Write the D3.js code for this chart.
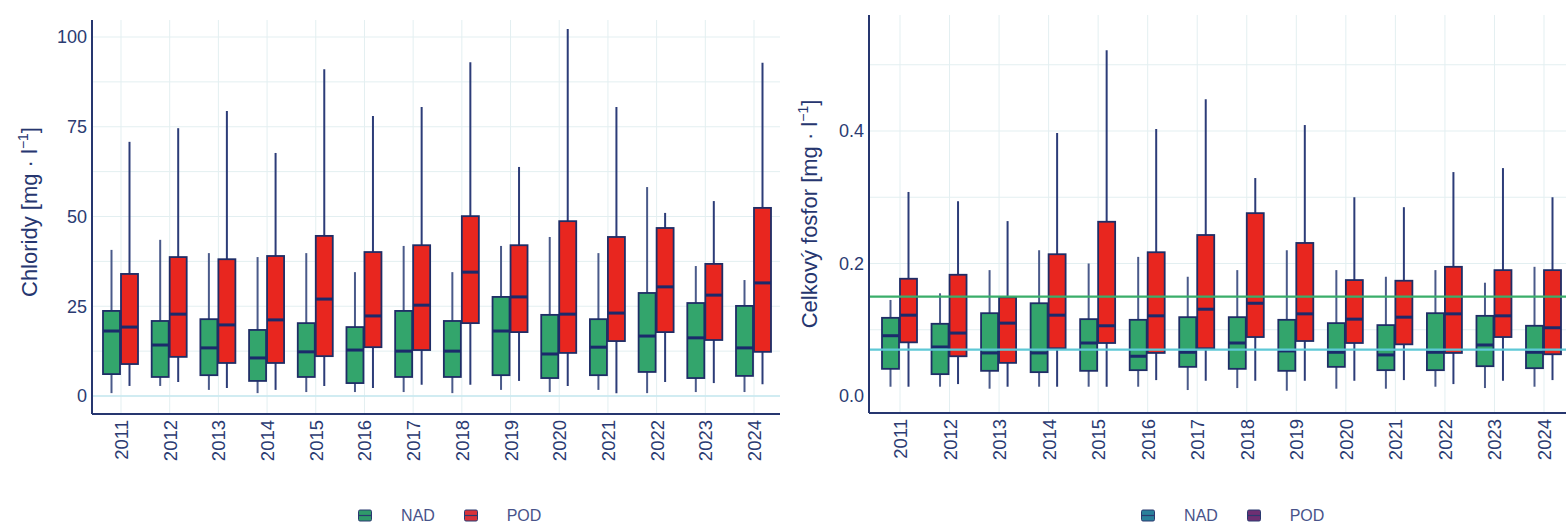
<!DOCTYPE html>
<html><head><meta charset="utf-8">
<script src="https://cdn.jsdelivr.net/npm/d3@7"></script>
<style>body{margin:0;background:#fff}svg{display:block}text{font-family:"Liberation Sans",Arial,sans-serif}</style>
</head><body><svg id="c" width="1566" height="525"></svg>
<script>
const years = ["2011","2012","2013","2014","2015","2016","2017","2018","2019","2020","2021","2022","2023","2024"];
const seriesNames = ["NAD","POD"];
// [min, q1, median, q3, max]
const chlNAD = [[0.8,6.1,18.1,23.7,40.7],[2.8,5.3,14.2,20.9,43.5],[1.7,5.8,13.4,21.4,39.8],[0.8,4.2,10.6,18.4,38.7],[1.1,5.3,12.3,20.3,39.8],[1.1,3.6,12.8,19.2,34.5],[1.1,5.3,12.5,23.7,41.8],[0.8,5.3,12.5,20.9,34.5],[1.7,5.8,18.1,27.6,41.8],[1.1,5.0,11.7,22.6,44.3],[1.7,5.8,13.6,21.4,39.8],[0.8,6.7,16.7,28.7,58.2],[1.1,5.0,16.2,25.9,36.2],[1.1,5.6,13.4,25.1,32.3]];
const chlPOD = [[2.8,8.9,19.2,34.0,70.8],[3.9,10.9,22.8,38.7,74.6],[2.2,9.2,19.8,38.1,79.4],[1.7,9.2,21.2,39.0,67.7],[2.8,11.1,27.0,44.6,91.0],[2.2,13.6,22.3,40.1,78.0],[3.1,12.8,25.3,42.0,80.5],[3.1,20.3,34.5,50.1,93.0],[4.2,17.8,27.6,42.0,63.8],[2.8,12.0,22.8,48.7,102.2],[0.8,15.3,23.1,44.3,80.5],[3.9,17.8,30.4,46.8,51.0],[3.6,15.6,28.1,36.8,54.3],[3.3,12.3,31.5,52.4,92.8]];
const pNAD = [[0.014,0.041,0.091,0.118,0.145],[0.014,0.033,0.074,0.109,0.155],[0.011,0.038,0.065,0.125,0.19],[0.014,0.036,0.065,0.14,0.22],[0.014,0.038,0.08,0.116,0.2],[0.014,0.039,0.06,0.115,0.21],[0.009,0.044,0.066,0.119,0.18],[0.012,0.041,0.08,0.119,0.19],[0.008,0.038,0.068,0.115,0.22],[0.011,0.044,0.066,0.11,0.19],[0.011,0.039,0.062,0.107,0.18],[0.014,0.039,0.066,0.125,0.19],[0.012,0.045,0.077,0.121,0.171],[0.014,0.042,0.066,0.106,0.195]];
const pPOD = [[0.014,0.081,0.122,0.177,0.308],[0.018,0.06,0.095,0.183,0.294],[0.014,0.05,0.11,0.149,0.264],[0.014,0.072,0.122,0.214,0.397],[0.014,0.08,0.106,0.263,0.522],[0.024,0.065,0.121,0.217,0.403],[0.023,0.072,0.131,0.243,0.448],[0.023,0.089,0.14,0.276,0.329],[0.023,0.083,0.124,0.231,0.409],[0.023,0.08,0.116,0.175,0.3],[0.024,0.078,0.119,0.174,0.285],[0.018,0.065,0.124,0.195,0.338],[0.023,0.089,0.121,0.19,0.344],[0.024,0.063,0.103,0.19,0.3]];
const chlTicks = [0,25,50,75,100];
const pTicks = [0,0.2,0.4];
const pRefLines = [0.15, 0.07];

const svg = d3.select("#c");
const navy = "#26366f", tickCol = "#2b3b72";

function panel(o){
  const g = svg.append("g");
  const x = d3.scalePoint().domain(years).range(o.xr);
  const y = d3.scaleLinear().domain(o.yd).range(o.yr);
  // grid
  g.selectAll(".hg").data(o.grid).enter().append("line")
    .attr("x1",o.ax).attr("x2",o.xEnd).attr("y1",d=>y(d)).attr("y2",d=>y(d))
    .attr("stroke","#e3eff1").attr("stroke-width",1);
  g.selectAll(".vg").data(years).enter().append("line")
    .attr("x1",d=>x(d)).attr("x2",d=>x(d)).attr("y1",o.top).attr("y2",o.ay)
    .attr("stroke","#e3eff1").attr("stroke-width",1);
  if(o.zero){
    g.append("line").attr("x1",o.ax).attr("x2",o.xEnd).attr("y1",y(0)).attr("y2",y(0))
      .attr("stroke","#c6e9f0").attr("stroke-width",1.5);
  }
  const bw = 17;
  const sets = [{d:o.nad, off:-9.5, fill:"#33a56c", wc:"#4a5a8a"},{d:o.pod, off:8.5, fill:"#e8261f", wc:"#2c3c78"}];
  sets.forEach(s=>{
    const bg = g.append("g").selectAll("g").data(s.d.map((v,i)=>({v,yr:years[i]}))).enter().append("g")
      .attr("transform",d=>`translate(${x(d.yr)+s.off},0)`);
    bg.append("line").attr("x1",0).attr("x2",0).attr("y1",d=>y(d.v[0])).attr("y2",d=>y(d.v[4]))
      .attr("stroke",s.wc).attr("stroke-width",2);
    bg.append("rect").attr("x",-bw/2).attr("width",bw).attr("y",d=>y(d.v[3])).attr("height",d=>y(d.v[1])-y(d.v[3]))
      .attr("fill",s.fill).attr("stroke","#1f2d66").attr("stroke-width",1.8);
    bg.append("line").attr("x1",-bw/2).attr("x2",bw/2).attr("y1",d=>y(d.v[2])).attr("y2",d=>y(d.v[2]))
      .attr("stroke","#1b2a6b").attr("stroke-width",3);
  });
  if(o.refs){
    const rc = ["#3aae6a","#5ec8d6"];
    g.selectAll(".ref").data(o.refs).enter().append("line")
      .attr("x1",o.ax).attr("x2",o.xEnd).attr("y1",d=>y(d)).attr("y2",d=>y(d))
      .attr("stroke",(d,i)=>rc[i]).attr("stroke-width",2.2);
  }
  // axes lines
  g.append("line").attr("x1",o.ax).attr("x2",o.ax).attr("y1",o.top).attr("y2",o.ay).attr("stroke",navy).attr("stroke-width",2);
  g.append("line").attr("x1",o.ax).attr("x2",o.xEnd).attr("y1",o.ay).attr("y2",o.ay).attr("stroke",navy).attr("stroke-width",2);
  // y axis labels
  const ya = g.append("g").attr("transform",`translate(${o.ax},0)`)
    .call(d3.axisLeft(y).tickValues(o.ticks).tickSize(0).tickPadding(5).tickFormat(o.fmt));
  ya.select(".domain").remove();
  ya.selectAll("text").attr("fill",tickCol).style("font-size","18px");
  // x axis labels
  const xa = g.append("g").attr("transform",`translate(0,${o.ay})`)
    .call(d3.axisBottom(x).tickSize(0));
  xa.select(".domain").remove();
  xa.selectAll("text").attr("fill",tickCol).style("font-size","18.5px")
    .attr("transform","rotate(-90)").attr("text-anchor","end").attr("x",-6).attr("y",0).attr("dy","0.35em");
  // title
  const t = g.append("text").attr("transform",`translate(${o.tx},${o.ty}) rotate(-90)`)
    .attr("text-anchor","middle").attr("fill",navy).style("font-size","22px");
  t.append("tspan").text(o.title+" [mg · l");
  t.append("tspan").attr("dy","-9").style("font-size","14px").text("−1");
  t.append("tspan").attr("dy","9").text("]");
  // legend
  const lg = g.append("g");
  seriesNames.forEach((n,i)=>{
    const lx = o.legX + i*106;
    lg.append("rect").attr("x",lx-6.5).attr("y",510).attr("width",13).attr("height",11).attr("rx",1.5)
      .attr("fill",o.legCols[i]).attr("stroke","#2a3a70").attr("stroke-width",1);
    lg.append("line").attr("x1",lx-6.5).attr("x2",lx+6.5).attr("y1",515.5).attr("y2",515.5).attr("stroke","#2a3a70").attr("stroke-width",1.2);
    lg.append("text").attr("x",lx+53).attr("y",521).attr("text-anchor","middle")
      .attr("fill","#48538a").style("font-size","16px").text(n);
  });
}

panel({xr:[121,754], yd:[0,100], yr:[396,37], ax:92, xEnd:780, ay:414, top:20,
  grid:d3.range(0,101,12.5), zero:true, nad:chlNAD, pod:chlPOD, ticks:chlTicks, fmt:d3.format("d"),
  title:"Chloridy", tx:37, ty:212, legX:365, legCols:["#2f9a6a","#d8323a"]});
panel({xr:[900,1544], yd:[0,0.4], yr:[396,131], ax:869, xEnd:1566, ay:413, top:15,
  grid:[0.1,0.2,0.3,0.4,0.5], zero:false, nad:pNAD, pod:pPOD, ticks:pTicks, fmt:d3.format(".1f"),
  refs:pRefLines, title:"Celkový fosfor", tx:817, ty:214, legX:1148, legCols:["#2a7f9a","#6e2f72"]});
</script></body></html>
